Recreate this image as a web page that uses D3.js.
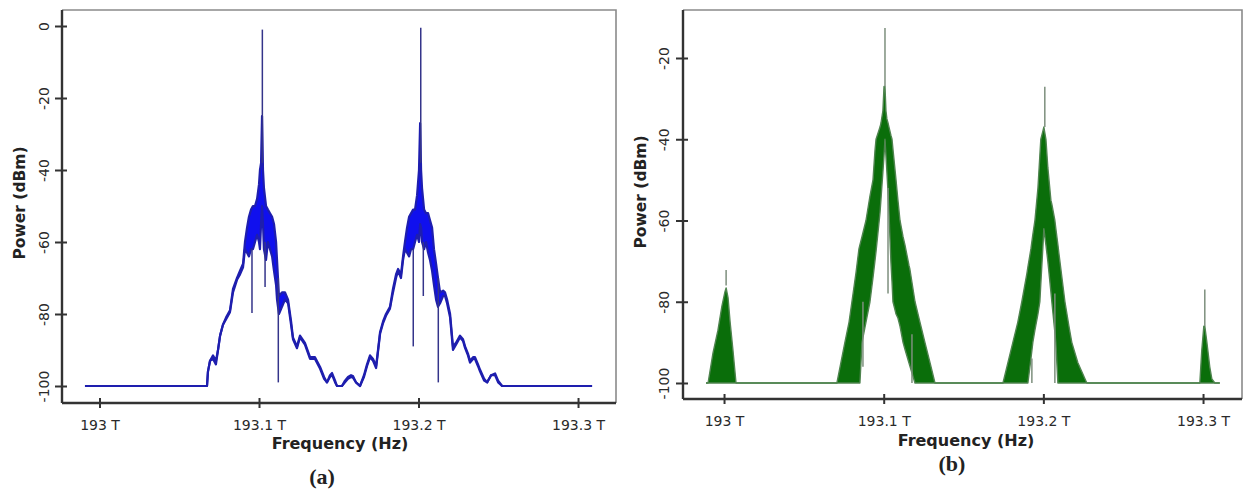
<!DOCTYPE html>
<html><head><meta charset="utf-8">
<script src="https://cdn.jsdelivr.net/npm/d3@7"></script>
<style>body{margin:0;background:#fff}svg{display:block}</style>
</head><body>
<script>
// ---------- DATA ----------
// Panel (a): spectrum envelope (upper / lower edge of the trace), power in dBm
const freqA = [192.9909,193.0630,193.0674,193.0680,193.0693,193.0712,193.0730,193.0743,193.0756,193.0774,193.0793,193.0818,193.0837,193.0862,193.0881,193.0900,193.0912,193.0925,193.0937,193.0950,193.0962,193.0975,193.0988,193.1000,193.1006,193.1013,193.1019,193.1025,193.1031,193.1044,193.1056,193.1069,193.1082,193.1094,193.1107,193.1113,193.1125,193.1144,193.1163,193.1182,193.1201,193.1213,193.1238,193.1257,193.1288,193.1320,193.1351,193.1383,193.1408,193.1426,193.1445,193.1458,193.1477,193.1489,193.1520,193.1539,193.1558,193.1577,193.1589,193.1608,193.1633,193.1658,193.1677,193.1696,193.1715,193.1734,193.1746,193.1759,193.1778,193.1796,193.1821,193.1840,193.1859,193.1872,193.1890,193.1903,193.1915,193.1928,193.1941,193.1953,193.1966,193.1978,193.1991,193.2003,193.2010,193.2016,193.2022,193.2035,193.2047,193.2060,193.2072,193.2085,193.2097,193.2110,193.2122,193.2135,193.2154,193.2166,193.2179,193.2198,193.2216,193.2235,193.2260,193.2279,193.2292,193.2310,193.2323,193.2342,193.2354,193.2373,193.2386,193.2411,193.2430,193.2455,193.2480,193.2499,193.2524,193.3088];
const hiA = [-100,-100,-100,-96,-93,-91.5,-93,-90,-86,-83,-81,-79,-73,-70,-68,-66,-60,-56,-53,-51,-50,-50,-48,-44,-40,-38,-25,-40,-45,-50,-51,-52,-53,-55,-60,-65,-75,-74,-74,-76,-82,-86.5,-89,-86,-88,-92,-92,-94.7,-97.5,-99,-97,-96.4,-98.5,-100,-100,-98.5,-97.5,-97,-97.2,-99,-100,-97,-94,-91.5,-92.5,-94.5,-90,-85,-82,-80,-78,-73,-69,-67.5,-69,-64,-60,-56,-53,-52,-51,-51,-47,-40,-27,-40,-45,-51,-52,-52,-54,-56,-62,-66,-70,-74,-73.5,-74,-76,-80,-89,-88,-86,-87,-89,-91,-93,-92,-92,-94,-95.5,-98,-99,-97,-96.5,-98.5,-100,-100];
const loA = [-100,-100,-100,-96,-93,-92.5,-94,-90,-86,-83,-81.5,-79.5,-74,-70.5,-69,-67,-62,-63,-64,-62,-62,-60,-58,-60,-62,-55,-50,-55,-62,-65,-60,-62,-64,-68,-72,-76,-80,-78,-76,-77,-83,-87,-89.5,-86.5,-88.5,-92.5,-92.5,-95.2,-98,-99,-97.5,-96.9,-99,-100,-100,-99,-98,-97.5,-97.7,-99,-100,-97.5,-94.5,-92,-93,-95,-90.5,-85.5,-82.5,-80.5,-78.5,-74,-70,-68,-70,-65,-62,-63,-64,-62,-62,-60,-58,-60,-55,-56,-60,-62,-60,-63,-65,-68,-72,-76,-78,-77,-75,-75,-77,-81,-90,-88.5,-86.5,-87.5,-89.5,-91.5,-93.5,-92.5,-92.5,-94.5,-96,-98.5,-99,-97,-97,-99,-100,-100];
// Panel (a): narrow spikes (frequency, from dBm, to dBm)
const spikeFreqA = [193.0956,193.1021,193.1038,193.1121,193.1967,193.2014,193.2030,193.2124];
const spikeFromA = [-62,-38,-60,-70,-62,-38,-60,-70];
const spikeToA   = [-79.7,-1,-72.5,-99,-89,-0.5,-75,-99];

// Panel (b): filled spectrum, upper and lower bound (dBm)
const freqB = [192.9887,192.9900,192.9931,192.9962,192.9987,193.0006,193.0013,193.0025,193.0038,193.0056,193.0075,
  193.0707,193.0732,193.0757,193.0783,193.0801,193.0826,193.0845,193.0851,193.0864,193.0889,193.0914,193.0933,193.0945,193.0952,193.0977,193.0983,193.0995,193.1002,193.1008,193.1014,193.1020,193.1027,193.1033,193.1045,193.1052,193.1058,193.1077,193.1089,193.1102,193.1121,193.1133,193.1158,193.1164,193.1196,193.1227,193.1258,193.1290,193.1321,
  193.1747,193.1778,193.1809,193.1840,193.1865,193.1897,193.1903,193.1922,193.1934,193.1947,193.1966,193.1978,193.1984,193.1997,193.2003,193.2016,193.2028,193.2047,193.2053,193.2072,193.2078,193.2091,193.2097,193.2135,193.2160,193.2178,193.2216,193.2272,
  193.2980,193.2992,193.3005,193.3011,193.3024,193.3042,193.3055,193.3074,193.3105];
const hiB = [-100,-100,-92.6,-87,-81,-77.5,-76.6,-79,-85,-92,-100,
  -100,-95,-90,-85,-80,-73,-67,-66,-64,-60,-54,-50,-43,-40,-37,-36,-33,-27,-27,-33,-35,-36,-37,-39,-40,-42.5,-50,-55,-60,-64,-66,-71,-72,-80,-85,-90,-95,-100,
  -100,-95,-90,-85,-80,-73,-71.5,-67,-63.5,-60,-52,-44,-40,-38,-37,-40,-47,-55,-56,-60,-62,-66,-68,-80,-86,-90,-95,-100,
  -100,-92,-86,-86,-90,-96,-99,-100,-100];
const loB = [-100,-100,-100,-100,-100,-100,-100,-100,-100,-100,-100,
  -100,-100,-100,-100,-100,-100,-100,-100,-90,-85,-80,-74,-70,-67.6,-58,-54.7,-48,-44,-40,-44,-48,-53,-58,-70,-75,-80,-83,-84,-86,-90,-91.7,-95,-95.8,-100,-100,-100,-100,-100,
  -100,-100,-100,-100,-100,-100,-100,-94,-90,-87,-83,-80,-75.5,-66.5,-62,-66,-70,-77.5,-80,-87.5,-90,-100,-100,-100,-100,-100,-100,-100,
  -100,-100,-100,-100,-100,-100,-100,-100,-100];
// Panel (b): thin grey spikes / streaks
const spikeFreqB = [193.0013,193.1008,193.2009,193.3011,193.1027,193.1177,193.0870,193.1928,193.2072];
const spikeFromB = [-76,-27,-37,-86,-52,-88,-80,-94,-78];
const spikeToB   = [-72.2,-12.6,-27.1,-77,-78,-100,-96,-100,-100];

const xTicks = [193, 193.1, 193.2, 193.3];
const yTicksA = [0, -20, -40, -60, -80, -100];
const yTicksB = [-20, -40, -60, -80, -100];
const xTitle = "Frequency (Hz)";
const yTitle = "Power (dBm)";
const captions = ["(a)", "(b)"];

// ---------- DRAW ----------
const svg = d3.select("body").append("svg").attr("width",1244).attr("height",494);
const SANS = "DejaVu Sans, Verdana, sans-serif";

function panel(o){
  const x = d3.scaleLinear().domain(o.xd).range([o.L,o.R]);
  const y = d3.scaleLinear().domain(o.yd).range([o.B,o.T]);
  const g = svg.append("g");
  g.append("path").attr("d",`M${o.L},${o.T}H${o.R}V${o.B}`).attr("fill","none")
    .attr("stroke","#8a8a8a").attr("stroke-width",1.6);
  const idx = d3.range(o.f.length);
  const area = d3.area().x(i=>x(o.f[i])).y0(i=>y(o.lo[i])).y1(i=>y(o.hi[i]));
  g.append("path").attr("d",area(idx)).attr("fill",o.fill).attr("stroke","none");
  const lineHi = d3.line().x(i=>x(o.f[i])).y(i=>y(o.hi[i]));
  const lineLo = d3.line().x(i=>x(o.f[i])).y(i=>y(o.lo[i]));
  g.append("path").attr("d",lineLo(idx)).attr("fill","none").attr("stroke",o.edge).attr("stroke-width",o.ew).attr("stroke-linejoin","round");
  g.append("path").attr("d",lineHi(idx)).attr("fill","none").attr("stroke",o.edge).attr("stroke-width",o.ew).attr("stroke-linejoin","round");
  g.selectAll("line.sp").data(d3.range(o.sf.length)).join("line").attr("class","sp")
    .attr("x1",i=>x(o.sf[i])).attr("x2",i=>x(o.sf[i]))
    .attr("y1",i=>y(o.s0[i])).attr("y2",i=>y(o.s1[i]))
    .attr("stroke",o.spike).attr("stroke-width",1.5);
  const ax = g.append("g").attr("transform",`translate(0,${o.B})`)
    .call(d3.axisBottom(x).tickValues(xTicks).tickFormat(d=>String(d)+" T").tickSize(5).tickPadding(12));
  ax.select(".domain").attr("d",`M${o.L},0H${o.R}`).attr("stroke","#333").attr("stroke-width",2.4);
  ax.selectAll(".tick line").attr("y1",-5).attr("y2",5).attr("stroke","#333").attr("stroke-width",2);
  ax.selectAll(".tick text").attr("font-family",SANS).attr("font-size",14).attr("fill","#2a2a2a").attr("dy","0.71em");
  const ay = g.append("g").attr("transform",`translate(${o.L},0)`)
    .call(d3.axisLeft(y).tickValues(o.yt).tickFormat(d=>String(d)).tickSize(6));
  ay.select(".domain").attr("d",`M0,${o.T}V${o.B}`).attr("stroke","#333").attr("stroke-width",2.4);
  ay.selectAll(".tick line").attr("x1",5).attr("x2",-7).attr("stroke","#333").attr("stroke-width",2);
  ay.selectAll(".tick text").attr("font-family",SANS).attr("font-size",14).attr("fill","#2a2a2a")
    .attr("x",null).attr("dy",null).attr("text-anchor","middle")
    .attr("transform",`translate(${o.ytx-o.L},0) rotate(-90)`).attr("y",5);
  g.append("text").text(xTitle).attr("x",o.xtx).attr("y",o.xty).attr("text-anchor","middle")
    .attr("font-family",SANS).attr("font-weight","bold").attr("font-size",16).attr("fill","#222");
  g.append("text").text(yTitle).attr("transform",`translate(${o.ylx},${o.yly}) rotate(-90)`).attr("text-anchor","middle")
    .attr("font-family",SANS).attr("font-weight","bold").attr("font-size",15.5).attr("fill","#222");
  g.append("text").text(o.cap).attr("x",o.capx).attr("y",o.capy).attr("text-anchor","middle")
    .attr("font-family","Liberation Serif, Times New Roman, serif").attr("font-weight","bold").attr("font-size",22).attr("fill","#222");
}

panel({L:62,R:616,T:10,B:403, xd:[192.9765,193.3238], yd:[-104.722,4.444],
  f:freqA, hi:hiA, lo:loA, sf:spikeFreqA, s0:spikeFromA, s1:spikeToA, yt:yTicksA,
  fill:"#1010ee", edge:"#1e1eae", ew:2.2, spike:"#34348a",
  ytx:44, xtx:340, xty:449, ylx:25, yly:203, cap:captions[0], capx:322, capy:484});

panel({L:683,R:1242,T:10,B:399, xd:[192.9743,193.3244], yd:[-103.94,-8.185],
  f:freqB, hi:hiB, lo:loB, sf:spikeFreqB, s0:spikeFromB, s1:spikeToB, yt:yTicksB,
  fill:"#0a6e0a", edge:"#4f844f", ew:1.4, spike:"#7d8f7d",
  ytx:664, xtx:966, xty:446, ylx:646, yly:192, cap:captions[1], capx:952, capy:471});
</script>
</body></html>
